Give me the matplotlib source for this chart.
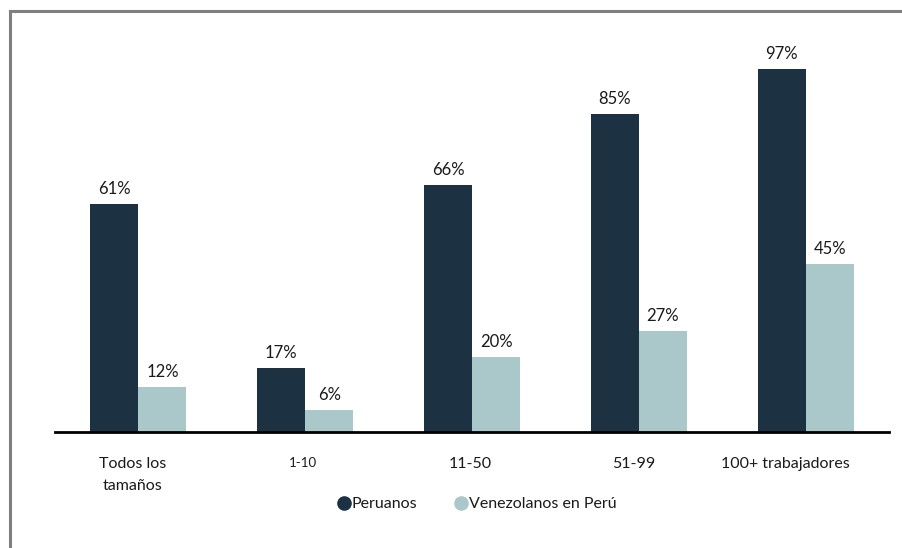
import matplotlib
matplotlib.use("Agg")
import matplotlib.pyplot as plt
from matplotlib.lines import Line2D
from matplotlib.transforms import ScaledTranslation, blended_transform_factory
import numpy as np

categories = ["Todos los\ntamaños", "1-10", "11-50", "51-99", "100+ trabajadores"]
peruanos = [61, 17, 66, 85, 97]
venezolanos = [12, 6, 20, 27, 45]
series_names = ["Peruanos", "Venezolanos en Perú"]

dark = "#1c3243"
light = "#aac8ca"
FONT = "Lato"

W, H = 903, 548
fig = plt.figure(figsize=(W / 100, H / 100), dpi=100)

# frame lines (top and left) as in the reference
fig.add_artist(Line2D([10 / W, 1.0], [1 - 11 / H, 1 - 11 / H], color="#7f7f7f", lw=2.2, transform=fig.transFigure))
fig.add_artist(Line2D([10 / W, 10 / W], [0, 1 - 11 / H], color="#7f7f7f", lw=2.2, transform=fig.transFigure))

left, right, base, top = 55, 889, 432, 58
ax = fig.add_axes([left / W, 1 - base / H, (right - left) / W, (base - top) / H])

x = np.arange(len(categories))
bw = 0.288
b1 = ax.bar(x - bw / 2, peruanos, bw, color=dark)
b2 = ax.bar(x + bw / 2, venezolanos, bw, color=light)

for bars, vals in ((b1, peruanos), (b2, venezolanos)):
    for b, v in zip(bars, vals):
        ax.annotate(f"{v}%", (b.get_x() + b.get_width() / 2, v), xytext=(0, 5),
                    textcoords="offset points", ha="center", va="bottom",
                    fontsize=12, family=FONT, color="#1a1a1a")

ax.set_xlim(-0.5, len(categories) - 0.5)
ax.set_ylim(0, 100)
ax.set_xticks([])
ax.set_yticks([])

# category labels, placed under each group (slightly offset as in the reference)
blend = blended_transform_factory(ax.transData, ax.transAxes)
shifts = [-6, -2, -2, -5, -20]
sizes = [11.5, 9.5, 11.5, 11.5, 11.5]
for xi, lab, s, fs in zip(x, categories, shifts, sizes):
    ax.text(xi, 0, lab, transform=blend + ScaledTranslation(s / 100, -0.25, fig.dpi_scale_trans),
            ha="center", va="top", fontsize=fs, family=FONT, color="#1a1a1a",
            linespacing=1.75, multialignment="center")

for s in ("top", "right", "left"):
    ax.spines[s].set_visible(False)
ax.spines["bottom"].set_linewidth(2)
ax.spines["bottom"].set_color("black")

handles = [Line2D([], [], marker="o", ls="", color=dark, markersize=9.5),
           Line2D([], [], marker="o", ls="", color=light, markersize=9.5)]
fig.legend(handles, series_names, loc="center", bbox_to_anchor=(476 / W, 1 - 504 / H),
           ncol=2, frameon=False, handletextpad=0.0, columnspacing=2.2, handlelength=1.0,
           prop={"family": FONT, "size": 11.5}, labelcolor="#1a1a1a")

fig.savefig("out.png", dpi=100)
